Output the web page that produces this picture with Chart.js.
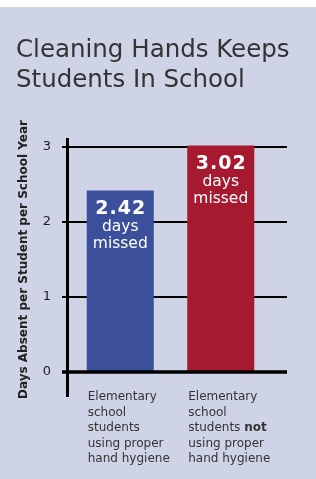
<!DOCTYPE html>
<html>
<head>
<meta charset="utf-8">
<script src="https://cdn.jsdelivr.net/npm/chart.js@4/dist/chart.umd.min.js"></script>
<style>
html,body{margin:0;padding:0;background:#fff;}
#wrap{margin-top:7px;width:316px;height:472px;background:#ced3e6;}
</style>
</head>
<body>
<div id="wrap"><canvas id="grafico" width="316" height="472"></canvas></div>
<script>
const titulo = ['Cleaning Hands Keeps', 'Students In School'];
const tituloEje = 'Days Absent per Student per School Year';
const categorias = ['proper', 'not'];
const diasPerdidos = [2.42, 3.02];
const etiquetasBarra = ['2.42', '3.02'];
const subEtiqueta = ['days', 'missed'];
const textoCategoria = [
  [['Elementary'], ['school'], ['students'], ['using proper'], ['hand hygiene']],
  [['Elementary'], ['school'], ['students ', 'not'], ['using proper'], ['hand hygiene']]
];
const colores = ['#3b4f9b', '#a61a2f'];
const FONT = '"DejaVu Sans", Verdana, sans-serif';

// titulo a mano: el de Chart.js se comprime al ancho del area
const tituloPlugin = {
  id: 'tituloLibre',
  beforeDraw(chart) {
    const c = chart.ctx;
    c.save();
    c.fillStyle = '#333';
    c.font = '24.5px ' + FONT;
    c.textAlign = 'left';
    c.textBaseline = 'alphabetic';
    titulo.forEach((t, i) => c.fillText(t, 16, 50 + i * 30));
    c.restore();
  }
};

// lineas de grilla y eje dibujadas a mano (se extienden fuera del area)
const lineasPlugin = {
  id: 'lineas',
  beforeDatasetsDraw(chart) {
    const c = chart.ctx, y = chart.scales.y;
    c.save();
    c.strokeStyle = '#000';
    c.lineWidth = 2;
    [1, 2, 3].forEach(v => {
      const py = Math.round(y.getPixelForValue(v));
      c.beginPath(); c.moveTo(62, py); c.lineTo(287, py); c.stroke();
    });
    c.lineWidth = 3;
    c.beginPath(); c.moveTo(67.5, 131); c.lineTo(67.5, 390); c.stroke();
    c.restore();
  },
  afterDatasetsDraw(chart) {
    const c = chart.ctx, y = chart.scales.y;
    c.save();
    const p0 = y.getPixelForValue(0);
    c.strokeStyle = '#000';
    c.lineWidth = 3.5;
    c.beginPath(); c.moveTo(62, p0); c.lineTo(287, p0); c.stroke();

    c.fillStyle = '#fff';
    c.textAlign = 'center';
    c.textBaseline = 'middle';
    chart.getDatasetMeta(0).data.forEach((bar, i) => {
      c.font = 'bold 19px ' + FONT;
      c.letterSpacing = '1px';
      c.fillText(etiquetasBarra[i], bar.x + 0.5, bar.y + 19);
      c.letterSpacing = '0px';
      c.font = '15.5px ' + FONT;
      c.fillText(subEtiqueta[0], bar.x, bar.y + 36);
      c.fillText(subEtiqueta[1], bar.x, bar.y + 53);

      // etiquetas de categoria debajo
      const x0 = bar.x - bar.width / 2 + 1;
      c.fillStyle = '#333';
      c.textAlign = 'left';
      textoCategoria[i].forEach((linea, j) => {
        let x = x0;
        linea.forEach((parte, k) => {
          c.font = (k === 1 ? 'bold ' : '') + '12px ' + FONT;
          c.fillText(parte, x, 390 + j * 15.5);
          x += c.measureText(parte).width;
        });
      });
      c.fillStyle = '#fff';
      c.textAlign = 'center';
    });
    c.restore();
  }
};

new Chart(document.getElementById('grafico'), {
  type: 'bar',
  data: {
    labels: categorias,
    datasets: [{
      data: diasPerdidos,
      backgroundColor: colores,
      barPercentage: 0.667,
      categoryPercentage: 1,
      clip: false
    }]
  },
  options: {
    responsive: false,
    animation: false,
    layout: { padding: { left: 16, right: 45, top: 140, bottom: 107 } },
    plugins: {
      legend: { display: false },
      tooltip: { enabled: false },
      title: { display: false }
    },
    scales: {
      x: { display: false },
      y: {
        min: 0,
        max: 3,
        grid: { display: false },
        border: { display: false },
        ticks: {
          stepSize: 1,
          padding: 11,
          color: '#222',
          font: { family: FONT, size: 13 }
        },
        title: {
          display: true,
          text: tituloEje,
          color: '#222',
          font: { family: FONT, size: 12, weight: 'bold' },
          padding: { top: 1, bottom: 0 }
        },
        afterFit(s) { s.width = 54; }
      }
    }
  },
  plugins: [tituloPlugin, lineasPlugin]
});
</script>
</body>
</html>
